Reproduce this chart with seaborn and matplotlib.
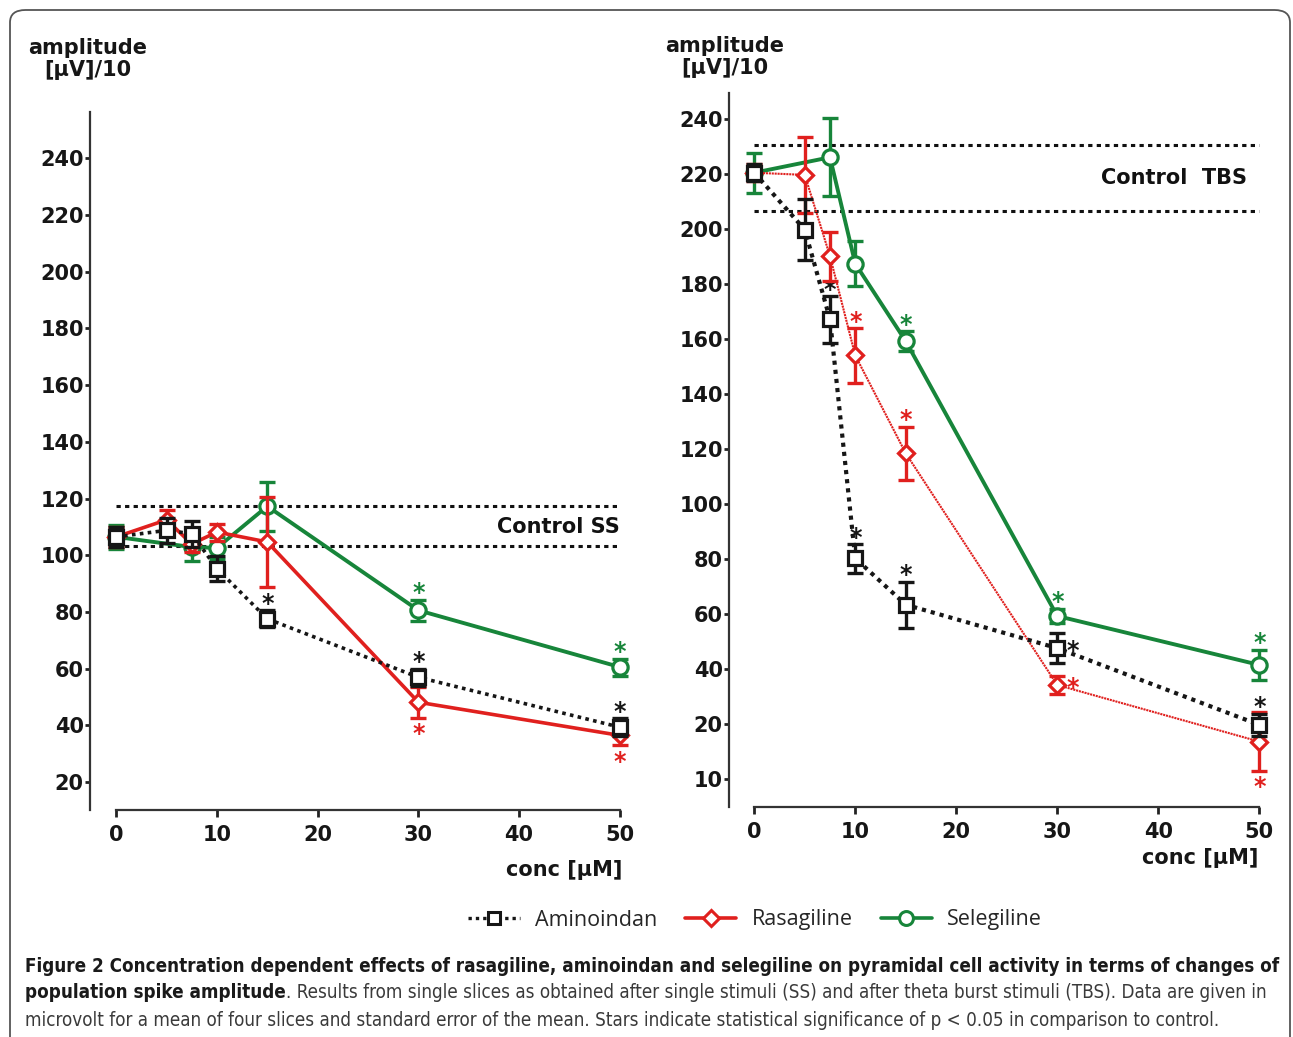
import matplotlib
matplotlib.use("Agg")
import matplotlib.pyplot as plt
from matplotlib.lines import Line2D
from matplotlib.patches import FancyBboxPatch
from matplotlib import font_manager
import seaborn as sns

# concentrations [uM]
conc_all = [0, 5, 7.5, 10, 15, 30, 50]
conc_sele = [0, 7.5, 10, 15, 30, 50]

# single stimuli (SS), amplitude [uV]/10, mean and SEM
ss_amino = [106.5, 108.8, 107.6, 95.3, 77.6, 57.0, 39.4]
ss_amino_err = [3.5, 4.5, 4.5, 4.3, 3.0, 3.0, 3.2]
ss_rasa = [106.5, 112.5, 104.0, 108.2, 104.7, 48.2, 36.5]
ss_rasa_err = [3.5, 3.5, 3.0, 3.0, 15.7, 5.5, 3.5]
ss_sele = [106.5, 102.9, 102.6, 117.3, 80.6, 60.6]
ss_sele_err = [4.3, 5.0, 4.0, 8.7, 3.8, 3.0]
ss_control = [117.3, 103.2]

# theta burst stimuli (TBS)
tbs_amino = [220.6, 199.9, 167.2, 80.3, 63.4, 47.6, 19.7]
tbs_amino_err = [3.0, 11.0, 8.4, 5.2, 8.3, 5.5, 4.0]
tbs_rasa = [220.6, 219.8, 190.2, 154.1, 118.5, 34.2, 13.6]
tbs_rasa_err = [3.0, 13.8, 8.9, 9.9, 9.7, 3.3, 10.6]
tbs_sele = [220.6, 226.2, 187.5, 159.3, 59.3, 41.5]
tbs_sele_err = [7.3, 14.2, 8.2, 3.6, 2.7, 5.5]
tbs_control = [230.7, 206.7]

# p < 0.05 vs control
ss_stars = {"Aminoindan": [15, 30, 50], "Rasagiline": [30, 50], "Selegiline": [30, 50]}
tbs_stars = {"Aminoindan": [7.5, 10, 15, 30, 50], "Rasagiline": [10, 15, 30, 50],
             "Selegiline": [15, 30, 50]}

ss_yticks = [20, 40, 60, 80, 100, 120, 140, 160, 180, 200, 220, 240]
tbs_yticks = [0, 20, 40, 60, 80, 100, 120, 140, 160, 180, 200, 220, 240]
tbs_yticklabels = ["10", "20", "40", "60", "80", "100", "120", "140", "160",
                   "180", "200", "220", "240"]
xticks = [0, 10, 20, 30, 40, 50]

W, H = 1293, 1037
colors = {"Aminoindan": "#161616", "Rasagiline": "#e0201e", "Selegiline": "#17853a"}
markers = {"Aminoindan": ("s", 9.5), "Rasagiline": ("D", 8), "Selegiline": ("o", 11)}

sns.set_theme(style="ticks")
plt.rcParams["font.family"] = ["DejaVu Sans"]


def px(x, y):
    return x / W, 1 - y / H


def draw_panel(ax, series, control, control_label, label_xy, stars, star_pos,
               yticks, yticklabels, ylim, xlim):
    for k, (name, xs, ys, es, ls, lw) in enumerate(series):
        c = colors[name]
        m, ms = markers[name]
        z = 3 + 2 * k
        ax.errorbar(xs, ys, yerr=es, fmt="none", ecolor=c, elinewidth=2.4,
                    capsize=6, capthick=2.4, zorder=z)
        sns.lineplot(x=xs, y=ys, ax=ax, color=c, linestyle=ls, linewidth=lw,
                     marker=m, markersize=ms, markerfacecolor="white",
                     markeredgecolor=c, markeredgewidth=2.3, zorder=z + 1,
                     legend=False)
        for xv in stars.get(name, []):
            i = xs.index(xv)
            pos = star_pos(name, xv)
            if pos == "above":
                ax.annotate("*", (xv, ys[i] + es[i]), xytext=(0, -4),
                            textcoords="offset points", ha="center", va="bottom",
                            color=c, fontsize=17, fontweight="bold")
            elif pos == "below":
                ax.annotate("*", (xv, ys[i] - es[i]), xytext=(0, -3),
                            textcoords="offset points", ha="center", va="top",
                            color=c, fontsize=17, fontweight="bold")
            else:
                ax.annotate("*", (xv, ys[i]), xytext=(7, -2),
                            textcoords="offset points", ha="left", va="center",
                            color=c, fontsize=17, fontweight="bold")

    ax.hlines(control, 0, 50, colors="#111111", linestyles=(0, (1.4, 1.4)),
              linewidth=2.2, zorder=2)
    ax.text(label_xy[0], label_xy[1], control_label, ha="right", va="center",
            fontsize=15, fontweight="bold", color="#111111")

    ax.set_xlim(*xlim)
    ax.set_ylim(*ylim)
    ax.set_xticks(xticks)
    ax.set_yticks(yticks)
    ax.set_yticklabels(yticklabels)
    ax.set_xlabel("")
    ax.set_ylabel("")
    sns.despine(ax=ax)
    ax.spines["bottom"].set_bounds(0, 50)
    for s in ("left", "bottom"):
        ax.spines[s].set_linewidth(1.6)
        ax.spines[s].set_color("#333333")
    ax.tick_params(axis="y", length=3.5, width=2, pad=1, labelsize=15,
                   color="#222222")
    ax.tick_params(axis="x", length=5, width=2, pad=6, labelsize=15,
                   color="#222222")
    for lab in ax.get_xticklabels() + ax.get_yticklabels():
        lab.set_fontweight("bold")
        lab.set_color("#161616")


fig = plt.figure(figsize=(W / 100, H / 100), dpi=100)

ax1 = fig.add_axes([90 / W, (H - 810) / H, 550 / W, 698 / H])
draw_panel(
    ax1,
    [("Selegiline", conc_sele, ss_sele, ss_sele_err, "-", 2.8),
     ("Rasagiline", conc_all, ss_rasa, ss_rasa_err, "-", 2.6),
     ("Aminoindan", conc_all, ss_amino, ss_amino_err, (0, (1, 1.2)), 2.6)],
    ss_control, "Control SS", (50, 110), ss_stars,
    lambda n, x: "below" if n == "Rasagiline" else "above",
    ss_yticks, [str(v) for v in ss_yticks], (10.2, 256.3), (-2.6, 52))

ax2 = fig.add_axes([729 / W, (H - 807) / H, 555.5 / W, 714 / H])


def tbs_pos(n, x):
    if x == 30 and n != "Selegiline":
        return "right"
    if n == "Rasagiline" and x == 50:
        return "below"
    return "above"


draw_panel(
    ax2,
    [("Selegiline", conc_sele, tbs_sele, tbs_sele_err, "-", 2.8),
     ("Rasagiline", conc_all, tbs_rasa, tbs_rasa_err, (0, (1, 0.4)), 1.5),
     ("Aminoindan", conc_all, tbs_amino, tbs_amino_err, (0, (1, 1.2)), 3.0)],
    tbs_control, "Control  TBS", (48.8, 218.5), tbs_stars, tbs_pos,
    tbs_yticks, tbs_yticklabels, (-10.2, 249.6), (-2.5, 52.5))

# axis titles
fig.text(*px(88, 59), "amplitude\n[µV]/10", ha="center", va="center",
         fontsize=15, fontweight="bold", linespacing=1.15, color="#161616")
fig.text(*px(725, 57), "amplitude\n[µV]/10", ha="center", va="center",
         fontsize=15, fontweight="bold", linespacing=1.15, color="#161616")
fig.text(*px(622, 870), "conc [µM]", ha="right", va="center",
         fontsize=15, fontweight="bold", color="#161616")
fig.text(*px(1258, 858), "conc [µM]", ha="right", va="center",
         fontsize=15, fontweight="bold", color="#161616")

# legend
handles = [
    Line2D([], [], color=colors["Aminoindan"], ls=(0, (1, 1.2)), lw=2.4,
           marker="s", ms=9, mfc="white", mec=colors["Aminoindan"], mew=2.2),
    Line2D([], [], color=colors["Rasagiline"], ls="-", lw=2.6,
           marker="D", ms=8, mfc="white", mec=colors["Rasagiline"], mew=2.2),
    Line2D([], [], color=colors["Selegiline"], ls="-", lw=2.6,
           marker="o", ms=10, mfc="white", mec=colors["Selegiline"], mew=2.2),
]
fig.legend(handles, ["Aminoindan", "Rasagiline", "Selegiline"], loc="center",
           bbox_to_anchor=px(755, 920), ncol=3, frameon=False,
           prop={"family": ["Open Sans", "DejaVu Sans"], "size": 15.5,
                 "stretch": "normal", "weight": "normal"},
           handlelength=2.4, handletextpad=0.7, columnspacing=1.3)

# frame round the figure
fig.patches.append(FancyBboxPatch((10 / W, -0.02), 1280 / W, 1 - 10 / H + 0.02,
                                  boxstyle="round,pad=0,rounding_size=0.012",
                                  transform=fig.transFigure, fill=False,
                                  edgecolor="#555555", linewidth=1.3))

# caption: prefer a condensed face if one is installed
fonts = font_manager.fontManager.ttflist
names = {f.name for f in fonts}
cap_stretch = "normal"
if "Liberation Sans Narrow" in names:
    cap_family = ["Liberation Sans Narrow", "DejaVu Sans"]
else:
    cap_family = ["DejaVu Sans"]
    if any(f.name == "DejaVu Sans" and f.stretch == "condensed" for f in fonts):
        cap_stretch = "condensed"

cax = fig.add_axes([0, 0, 1, 1])
cax.axis("off")
cax.set_xlim(0, 1)
cax.set_ylim(0, 1)

line1 = ("Figure 2 Concentration dependent effects of rasagiline, aminoindan and "
         "selegiline on pyramidal cell activity in terms of changes of")
line2a = "population spike amplitude"
line2b = (". Results from single slices as obtained after single stimuli (SS) and "
          "after theta burst stimuli (TBS). Data are given in")
line3 = ("microvolt for a mean of four slices and standard error of the mean. Stars "
         "indicate statistical significance of p < 0.05 in comparison to control.")

t1 = cax.text(*px(25, 967), line1, ha="left", va="center", fontsize=12,
              fontweight="bold", family=cap_family, fontstretch=cap_stretch,
              color="#1a1a1a")
renderer = fig.canvas.get_renderer()
fs = 12 * 1253 / t1.get_window_extent(renderer).width
t1.set_fontsize(fs)
t2 = cax.text(*px(25, 993), line2a, ha="left", va="center", fontsize=fs,
              fontweight="bold", family=cap_family, fontstretch=cap_stretch,
              color="#1a1a1a")
cax.annotate(line2b, xy=(1, 0), xycoords=t2, ha="left", va="bottom",
             fontsize=fs, family=cap_family, fontstretch=cap_stretch,
             color="#3a3a3a")
cax.text(*px(25, 1020), line3, ha="left", va="center", fontsize=fs,
         family=cap_family, fontstretch=cap_stretch, color="#3a3a3a")

fig.savefig("out.png", dpi=100, facecolor="white")
